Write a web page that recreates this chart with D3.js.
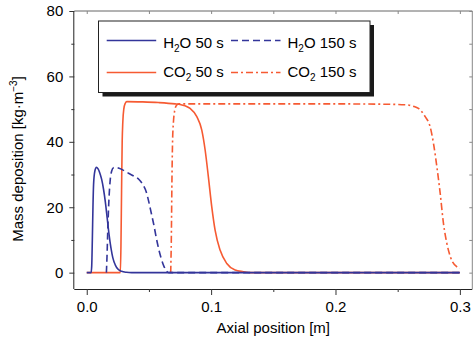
<!DOCTYPE html>
<html><head><meta charset="utf-8">
<script src="https://cdn.jsdelivr.net/npm/d3@7"></script>
<style>
html,body{margin:0;padding:0;background:#fff;}
text{font-family:"Liberation Sans",Arial,Helvetica,sans-serif;}
</style></head>
<body><svg id="c" width="476" height="342"></svg>
<script>
// ---- data ----
const xTicks = [0, 0.1, 0.2, 0.3];
const xMinor = [0.05, 0.15, 0.25];
const yTicks = [0, 20, 40, 60, 80];
const yMinor = [10, 30, 50, 70];

const h2o50x = [0, 0.0035, 0.004, 0.0045, 0.005, 0.0055, 0.0065, 0.0078, 0.009, 0.0105, 0.012, 0.0135, 0.015, 0.0165, 0.018, 0.0195, 0.021, 0.023, 0.025, 0.028, 0.032, 0.036, 0.3];
const h2o50y = [0, 0, 2, 10, 20, 27, 31, 32.2, 31.8, 30.5, 28.5, 25.5, 21.5, 16.5, 11.5, 7.5, 4.5, 2.3, 1.1, 0.4, 0.1, 0, 0];

const h2o150x = [0.0158, 0.0163, 0.017, 0.0178, 0.0188, 0.02, 0.0215, 0.023, 0.026, 0.03, 0.034, 0.038, 0.042, 0.045, 0.048, 0.05, 0.052, 0.054, 0.056, 0.058, 0.06, 0.062, 0.064, 0.066, 0.3];
const h2o150y = [0, 5, 14, 22, 28, 31, 32.1, 32.2, 31.9, 31.2, 30.3, 29.5, 28.5, 27, 24.5, 21.5, 18, 14.5, 10.5, 7, 4.2, 2, 0.6, 0, 0];

const co250x = [0, 0.027, 0.0275, 0.028, 0.0285, 0.029, 0.0298, 0.031, 0.0322, 0.045, 0.0576, 0.071, 0.075, 0.079, 0.0831, 0.0885, 0.0925, 0.0952, 0.0978, 0.1005, 0.1032, 0.1072, 0.1126, 0.1193, 0.126, 0.132, 0.3];
const co250y = [0, 0, 8, 25, 40, 46, 50, 51.8, 52.3, 52.2, 52, 51.6, 51.4, 51, 50.2, 47.7, 43.6, 37.5, 29.3, 20.2, 13, 6.9, 2.8, 0.8, 0.3, 0, 0];

const co2150x = [0.0675, 0.068, 0.0685, 0.069, 0.0697, 0.0707, 0.0722, 0.074, 0.1, 0.15, 0.2, 0.24, 0.257, 0.2625, 0.2667, 0.2721, 0.2761, 0.2788, 0.2815, 0.2842, 0.2868, 0.2895, 0.2928, 0.2976, 0.3];
const co2150y = [0, 10, 28, 40, 46, 49.5, 51.2, 51.6, 51.6, 51.6, 51.6, 51.5, 51.3, 50.9, 50.2, 47.7, 44.6, 39.5, 32.4, 24.2, 15.1, 9, 4.4, 1.8, 1.3];

const seriesNames = ["CO\u2082 50 s", "CO\u2082 150 s", "H\u2082O 150 s", "H\u2082O 50 s"];

// ---- chart ----
const svg = d3.select("#c");
const L = 74.3, R = 472.3, T = 11, B = 289;
const x = d3.scaleLinear().domain([-0.01, 0.31]).range([L, R]);
const y = d3.scaleLinear().domain([-5, 80]).range([B, T]);
const BLUE = "#33359a", ORANGE = "#f65a32";
const FS = 15;

const zip = (xs, ys) => xs.map((v, i) => [v, ys[i]]);
const line = d3.line().x(d => x(d[0])).y(d => y(d[1])).curve(d3.curveMonotoneX);

const series = [
  {data: zip(co250x, co250y), color: ORANGE, dash: null},
  {data: zip(co2150x, co2150y), color: ORANGE, dash: "7,3,2,3"},
  {data: zip(h2o150x, h2o150y), color: BLUE, dash: "7,4"},
  {data: zip(h2o50x, h2o50y), color: BLUE, dash: null}
];

series.forEach(s => {
  svg.append("path").attr("d", line(s.data)).attr("fill", "none")
    .attr("stroke", s.color).attr("stroke-width", 1.6)
    .attr("stroke-dasharray", s.dash);
});

// frame
svg.append("line").attr("x1", L).attr("x2", R).attr("y1", T).attr("y2", T).attr("stroke", "#666").attr("stroke-width", 1);
svg.append("line").attr("x1", R).attr("x2", R).attr("y1", T).attr("y2", B).attr("stroke", "#888").attr("stroke-width", 1);

// inner ticks top/right
const gTop = svg.append("g").attr("transform", `translate(0,${T})`)
  .call(d3.axisBottom(x).tickValues(xTicks.concat(xMinor)).tickSize(3).tickSizeOuter(0).tickFormat(""));
const gRight = svg.append("g").attr("transform", `translate(${R},0)`)
  .call(d3.axisLeft(y).tickValues(yTicks.concat(yMinor)).tickSize(3).tickSizeOuter(0).tickFormat(""));
[gTop, gRight].forEach(g => { g.select(".domain").remove(); g.selectAll("line").attr("stroke", "#888"); });

// x axis
const gx = svg.append("g").attr("transform", `translate(0,${B})`)
  .call(d3.axisBottom(x).tickValues(xTicks).tickSize(6).tickPadding(6).tickSizeOuter(0).tickFormat(d3.format(".1f")));
const gxm = svg.append("g").attr("transform", `translate(0,${B})`)
  .call(d3.axisBottom(x).tickValues(xMinor).tickSize(3).tickSizeOuter(0).tickFormat(""));
gxm.select(".domain").remove();

// y axis
const gy = svg.append("g").attr("transform", `translate(${L},0)`)
  .call(d3.axisLeft(y).tickValues(yTicks).tickSize(5).tickPadding(6).tickSizeOuter(0));
const gym = svg.append("g").attr("transform", `translate(${L},0)`)
  .call(d3.axisLeft(y).tickValues(yMinor).tickSize(3).tickSizeOuter(0).tickFormat(""));
gym.select(".domain").remove();

[gx, gy, gxm, gym].forEach(g => {
  g.selectAll("text").attr("font-size", FS).attr("fill", "#000")
    .attr("font-family", "'Liberation Sans',Arial,sans-serif");
  g.selectAll("line").attr("stroke", "#333");
  g.select(".domain").attr("stroke", "#222");
});
gx.select(".domain").attr("d", `M${L},0.5H${R}`);
gy.select(".domain").attr("d", `M-0.5,${T}V${B}`);

// axis titles
svg.append("text").attr("x", (L + R) / 2).attr("y", 333).attr("text-anchor", "middle")
  .attr("font-size", FS).text("Axial position [m]");
const yt = svg.append("text").attr("transform", "translate(23,159) rotate(-90)")
  .attr("text-anchor", "middle").attr("font-size", FS);
yt.append("tspan").text("Mass deposition [kg\u00b7m");
yt.append("tspan").attr("font-size", 10).attr("dy", -6).text("\u22123");
yt.append("tspan").attr("dy", 6).text("]");

// legend
const lg = svg.append("g");
lg.append("rect").attr("x", 102.5).attr("y", 25).attr("width", 271.5).attr("height", 71.5).attr("fill", "#1a1a1a");
lg.append("rect").attr("x", 98.5).attr("y", 21).attr("width", 271.5).attr("height", 71.5)
  .attr("fill", "#fff").attr("stroke", "#222").attr("stroke-width", 1);

const legendItems = [
  {label: ["H", "2", "O 50 s"], color: BLUE, dash: null, lx: 106.7, ty: 48.3, ly: 40.5},
  {label: ["H", "2", "O 150 s"], color: BLUE, dash: "7,4", lx: 231, ty: 48.3, ly: 40.5},
  {label: ["CO", "2", " 50 s"], color: ORANGE, dash: null, lx: 106.7, ty: 77.3, ly: 72.5},
  {label: ["CO", "2", " 150 s"], color: ORANGE, dash: "7,3,2,3", lx: 231, ty: 77.3, ly: 72.5}
];
legendItems.forEach(it => {
  lg.append("line").attr("x1", it.lx).attr("x2", it.lx + 49.5).attr("y1", it.ly).attr("y2", it.ly)
    .attr("stroke", it.color).attr("stroke-width", 1.6).attr("stroke-dasharray", it.dash);
  const t = lg.append("text").attr("x", it.lx + 56.5).attr("y", it.ty).attr("font-size", FS);
  t.append("tspan").text(it.label[0]);
  t.append("tspan").attr("font-size", 10).attr("dy", 4).text(it.label[1]);
  t.append("tspan").attr("dy", -4).text(it.label[2]);
});
</script></body></html>
